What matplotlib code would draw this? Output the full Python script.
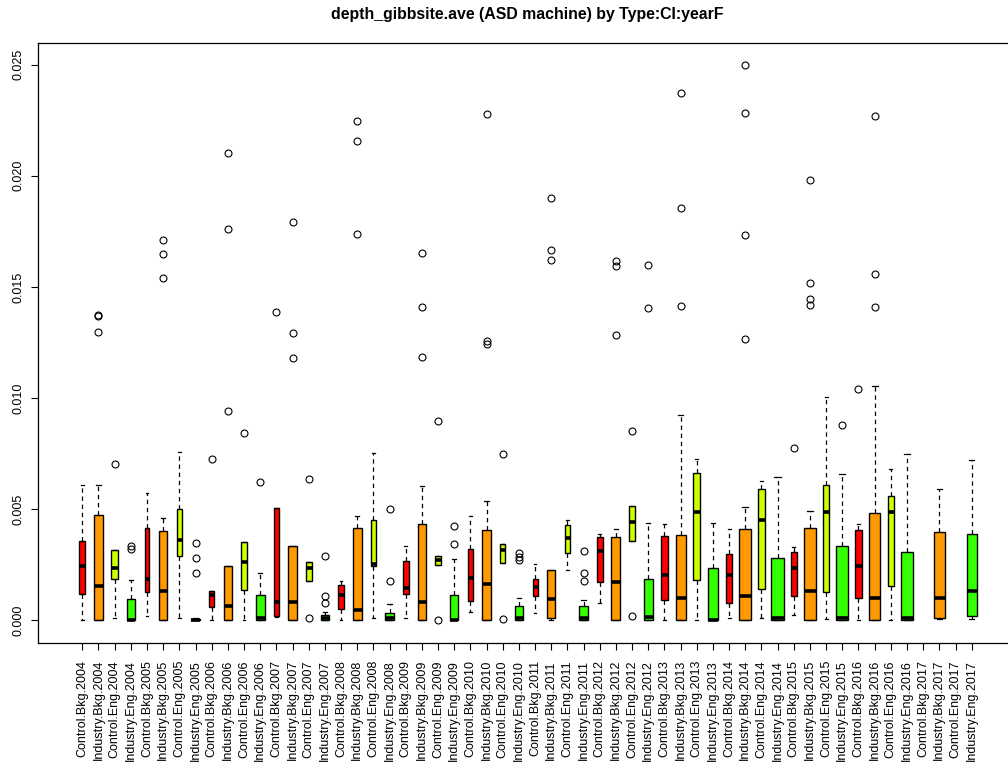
import matplotlib
matplotlib.use("Agg")
import matplotlib.pyplot as plt

plt.rcParams['font.family'] = ['Liberation Sans', 'DejaVu Sans']

groups = ["Control.Bkg", "Industry.Bkg", "Control.Eng", "Industry.Eng"]
years = list(range(2004, 2018))
labels = [f"{g}.{y}" for y in years for g in groups]
fill = {"Control.Bkg": "#ff0000", "Industry.Bkg": "#ff9900",
        "Control.Eng": "#ccff00", "Industry.Eng": "#33ff00"}

# box statistics, in units of 1e-3 (None = no data)
whislo = [0, 0, 0.13, 0,   0.18, 0, 0.13, 0,   0, 0, 0, 0,
          0.15, 0, 1.77, 0,   0, 0, 0.11, 0,   0.13, 0, 2.48, 0,
          0.39, 0, 2.57, 0,   0.35, 0.04, 2.28, 0,   0.79, 0, 3.57, 0,
          0, 0, 0.04, 0,   0.11, 0, 0.11, 0,   0.26, 0, 0.07, 0,
          0.04, 0, 0.04, 0,   None, 0.07, None, 0.07]
q1 = [1.21, 0, 1.88, 0,   1.29, 0, 2.89, 0,   0.59, 0, 1.36, 0,
      0.22, 0, 1.77, 0,   0.53, 0, 2.43, 0,   1.18, 0, 2.48, 0,
      0.86, 0, 2.57, 0,   1.10, 0.13, 3.02, 0,   1.75, 0, 3.57, 0,
      0.94, 0, 1.84, 0,   0.77, 0, 1.42, 0,   1.10, 0, 1.29, 0,
      1.01, 0, 1.53, 0,   None, 0.13, None, 0.18]
med = [2.43, 1.55, 2.37, 0.04,   1.88, 1.34, 3.62, 0.03,   1.14, 0.66, 2.63, 0.11,
       0.85, 0.81, 2.34, 0.09,   1.14, 0.48, 2.56, 0.09,   1.45, 0.81, 2.74, 0.04,
       1.93, 1.64, 3.18, 0.09,   1.51, 0.96, 3.73, 0.09,   3.11, 1.75, 4.41, 0.17,
       2.04, 1.03, 4.86, 0.02,   2.04, 1.10, 4.51, 0.13,   2.34, 1.32, 4.89, 0.13,
       2.43, 1.01, 4.86, 0.13,   None, 1.01, None, 1.32]
q3 = [3.59, 4.75, 3.16, 0.97,   4.18, 4.01, 5.00, 0.08,   1.32, 2.45, 3.51, 1.14,
      5.04, 3.37, 2.63, 0.26,   1.60, 4.18, 4.54, 0.35,   2.69, 4.32, 2.91, 1.16,
      3.20, 4.05, 3.42, 0.63,   1.88, 2.28, 4.30, 0.63,   3.77, 3.77, 5.17, 1.86,
      3.81, 3.84, 6.62, 2.35,   2.98, 4.10, 5.89, 2.81,   3.07, 4.18, 6.11, 3.33,
      4.05, 4.82, 5.61, 3.07,   None, 3.99, None, 3.88]
whishi = [6.07, 6.11, 3.16, 1.82,   5.74, 4.63, 7.56, 0.10,   1.32, 2.45, 3.51, 2.13,
          5.04, 3.37, 2.63, 0.40,   1.77, 4.69, 7.52, 0.75,   3.35, 6.05, 2.91, 2.78,
          4.69, 5.37, 3.42, 1.01,   2.54, 2.28, 4.51, 0.94,   3.90, 4.10, 5.17, 4.38,
          4.32, 9.25, 7.26, 4.38,   4.12, 5.09, 6.29, 6.44,   3.31, 4.91, 10.06, 6.58,
          4.36, 10.54, 6.82, 7.47,   None, 5.89, None, 7.23]
outliers = [[], [13.70, 13.75, 12.97], [7.04], [3.35, 3.22],
            [], [17.12, 16.48, 15.38], [], [3.48, 2.81, 2.15],
            [7.26], [21.02, 17.60, 9.44], [8.42], [6.24],
            [13.85], [17.90, 12.93, 11.81], [6.38, 0.11], [2.89, 1.09, 0.79],
            [], [22.47, 21.57, 17.38], [], [5.00, 1.78],
            [], [16.52, 14.11, 11.86], [8.99, 0.04], [4.23, 3.44],
            [], [22.77, 12.58, 12.43], [7.47, 0.06], [3.03, 2.85, 2.70],
            [], [19.02, 16.68, 16.19], [], [3.11, 2.12, 1.78],
            [], [16.15, 15.96, 12.84], [8.53, 0.22], [16.00, 14.07],
            [], [23.73, 18.54, 14.14], [], [],
            [], [24.96, 22.84, 17.34, 12.67], [], [],
            [7.76], [19.83, 15.16, 14.47, 14.20], [], [8.79],
            [10.39], [22.68, 15.60, 14.11], [], [],
            [], [], [], []]
# group sizes (drive the varwidth box widths)
counts = [8, 18, 10, 17,   6, 18, 8, 18,   8, 18, 8, 20,
          7, 20, 8, 16,   7, 20, 7, 17,   8, 18, 7, 16,
          8, 18, 6, 18,   6, 18, 7, 18,   8, 20, 7, 18,
          10, 24, 11, 23,   10, 36, 10, 40,   10, 40, 10, 38,
          10, 34, 10, 42,   0, 31, 0, 26]

scale = 1e-3
nmax = max(counts)

stats, pos, widths, cols = [], [], [], []
for i, lab in enumerate(labels):
    if med[i] is None:
        continue
    stats.append(dict(whislo=whislo[i] * scale, q1=q1[i] * scale, med=med[i] * scale,
                      q3=q3[i] * scale, whishi=whishi[i] * scale,
                      fliers=[v * scale for v in outliers[i]]))
    pos.append(i + 1)
    widths.append(0.8 * (counts[i] / nmax) ** 0.5)
    cols.append(fill[lab.rsplit(".", 1)[0]])

fig = plt.figure(figsize=(10.08, 7.69), dpi=100)
ax = fig.add_axes([38 / 1008, 1 - 642.7 / 769, 978 / 1008, 599.7 / 769])

bp = ax.bxp(stats, positions=pos, widths=widths, capwidths=[w * 0.5 for w in widths],
            patch_artist=True, manage_ticks=False,
            boxprops=dict(edgecolor="black", linewidth=1.0),
            medianprops=dict(color="black", linewidth=2.6, solid_capstyle="butt"),
            whiskerprops=dict(color="black", linewidth=0.9, linestyle=(0, (3.5, 3))),
            capprops=dict(color="black", linewidth=0.9),
            flierprops=dict(marker="o", markerfacecolor="none", markeredgecolor="black",
                            markersize=5, markeredgewidth=0.8))
for patch, c in zip(bp["boxes"], cols):
    patch.set_facecolor(c)

ax.set_xlim(-1.74, 58.74)
ax.set_ylim(-0.001, 0.02597)
ax.set_xticks(range(1, len(labels) + 1))
ax.set_xticklabels(labels, rotation=90, fontsize=9)
yt = [0.0, 0.005, 0.010, 0.015, 0.020, 0.025]
ax.set_yticks(yt)
ax.set_yticklabels([f"{v:.3f}" for v in yt], rotation=90, va="center", fontsize=9)
ax.tick_params(length=5, width=0.8)
ax.tick_params(axis="x", pad=7.5)
ax.tick_params(axis="y", pad=5)
for s in ax.spines.values():
    s.set_linewidth(0.9)

fig.text(527 / 1008, 1 - 15 / 769, "depth_gibbsite.ave (ASD machine) by Type:CI:yearF",
         ha="center", va="center", fontsize=11.4, fontweight="bold")

fig.savefig("out.png", dpi=100)
